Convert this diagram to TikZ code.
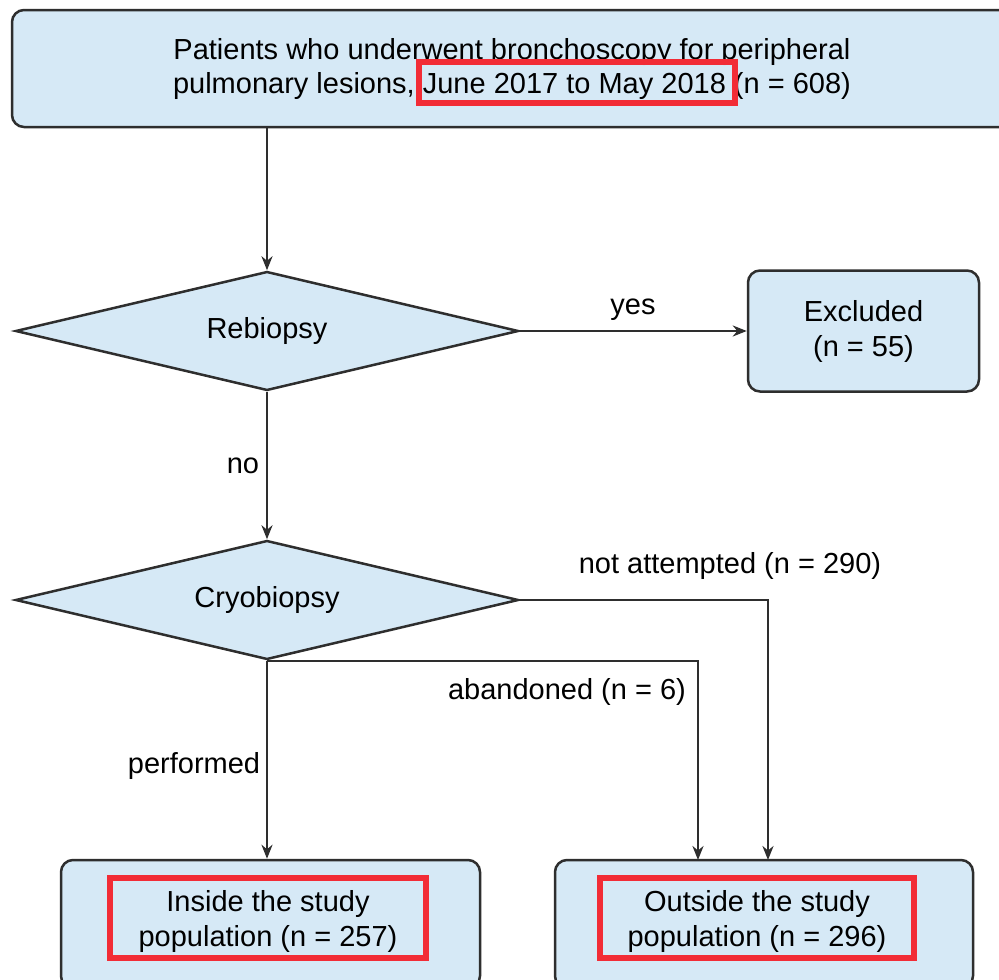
\documentclass[tikz,border=0pt]{standalone}
\usepackage{fontspec}
\setmainfont{Liberation Sans}
\usetikzlibrary{shapes.geometric,arrows.meta}
\definecolor{boxfill}{HTML}{D6E9F6}
\definecolor{boxline}{HTML}{2E2E2E}
\definecolor{hl}{HTML}{F22C36}
\tikzset{
  every node/.style={font=\fontsize{29}{35}\selectfont},
  rbox/.style={draw=boxline, line width=2.5pt, fill=boxfill, rounded corners=12pt, inner sep=0pt, align=center},
  dbox/.style={draw=boxline, line width=2.5pt, fill=boxfill, diamond, aspect=4.2, inner sep=0pt, minimum width=503pt, minimum height=119pt},
  conn/.style={draw=boxline, line width=2.5pt},
  arr/.style={conn, -{Stealth[length=14pt,width=11pt]}},
  lbl/.style={inner sep=0pt},
  redbox/.style={draw=hl, line width=5.5pt, inner sep=0pt}
}
\begin{document}
\begin{tikzpicture}[x=1pt,y=-1pt]
\useasboundingbox (0,0) rectangle (999,980);
\clip (0,0) rectangle (999,980);
\fill[white] (0,0) rectangle (999,980);
% boxes
\node[rbox, minimum width=1000pt, minimum height=117pt] (top) at (512,68.5) {};
\node[lbl, align=center] (toptext) at (512,69) {Patients who underwent bronchoscopy for peripheral\\pulmonary lesions, June 2017 to May 2018 (n = 608)};
\node[dbox] (reb) at (267,331) {Rebiopsy};
\node[rbox, minimum width=231pt, minimum height=121pt] (exc) at (863.5,331) {Excluded\\(n = 55)};
\node[dbox] (cryo) at (267,600) {Cryobiopsy};
\node[rbox, minimum width=419pt, minimum height=128pt] (ins) at (270.5,924) {};
\node[rbox, minimum width=418pt, minimum height=128pt] (out) at (764,924) {};
\node[lbl, align=center] (instext) at (268,921) {Inside the study\\population (n = 257)};
\node[lbl, align=center] (outtext) at (757,921) {Outside the study\\population (n = 296)};
% red highlight boxes
\node[redbox, minimum width=316pt, minimum height=41pt] (hl1) at (577,82.5) {};
\node[redbox, minimum width=316pt, minimum height=80pt] (hl2) at (268,918) {};
\node[redbox, minimum width=314pt, minimum height=80pt] (hl3) at (757,918) {};
% coordinates
\coordinate (e1) at (768,860);
\coordinate (e2) at (698,860);
% connectors
\draw[arr] (top.south -| reb.north) -- (reb.north);
\draw[arr] (reb.east) -- (exc.west);
\draw[arr] (reb.south) -- (cryo.north);
\draw[arr] (cryo.south) -- (cryo.south |- ins.north);
\draw[arr] (cryo.east) -| (e1);
\draw[arr] (cryo.south) -| (e2);
% labels
\node[lbl] (lyes) at (633,310) {yes};
\node[lbl] (lno) at (243,466) {no};
\node[lbl] (lnot) at (730,566) {not attempted (n = 290)};
\node[lbl] (laban) at (567,692) {abandoned (n = 6)};
\node[lbl] (lperf) at (194,766) {performed};
\end{tikzpicture}
\end{document}
